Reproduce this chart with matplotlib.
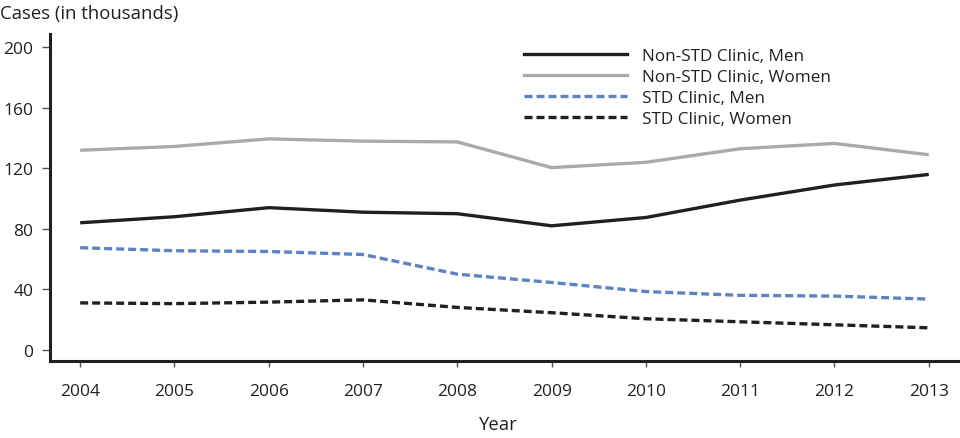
import matplotlib
matplotlib.use("Agg")
import matplotlib.pyplot as plt
from matplotlib.lines import Line2D

years = [2004, 2005, 2006, 2007, 2008, 2009, 2010, 2011, 2012, 2013]
non_std_men = [84, 88, 94, 91, 90, 82, 87.5, 99, 109, 116]
non_std_women = [132, 134.5, 139.5, 138, 137.5, 120.5, 124, 133, 136.5, 129]
std_men = [67.5, 65.5, 65, 63, 50, 44.5, 38.5, 36, 35.5, 33.5]
std_women = [31, 30.5, 31.5, 33, 28, 24.5, 20.5, 18.5, 16.5, 14.5]

labels = ["Non-STD Clinic, Men", "Non-STD Clinic, Women", "STD Clinic, Men", "STD Clinic, Women"]
yticks = [0, 40, 80, 120, 160, 200]

plt.rcParams['font.family'] = ['Open Sans', 'DejaVu Sans']
txt = '#231f20'

fig = plt.figure(figsize=(9.6, 4.39), dpi=100)
ax = fig.add_axes([50/960, (439-362)/439, 908/960, 327/439])

lw = 2.4
ax.plot(years, non_std_men, color='#231f20', lw=lw, solid_capstyle='butt')
ax.plot(years, non_std_women, color='#aaaaaa', lw=lw, solid_capstyle='butt')
ax.plot(years, std_men, color='#5b84c0', lw=lw, dashes=(2.4, 1.2))
ax.plot(years, std_women, color='#231f20', lw=lw, dashes=(2.4, 1.2))

ax.set_xlim(2003.68, 2013.31)
ax.set_ylim(-7.45, 208.9)
ax.set_xticks(years)
ax.set_xticklabels([str(y) for y in years])
ax.set_yticks(yticks)
for s in ['top', 'right']:
    ax.spines[s].set_visible(False)
for s in ['left', 'bottom']:
    ax.spines[s].set_linewidth(2.2)
    ax.spines[s].set_color(txt)
ax.tick_params(axis='y', length=6, width=1, color='#555555', pad=6, labelsize=12.5, labelcolor=txt)
ax.tick_params(axis='x', length=4, width=1, color='#555555', pad=12, labelsize=12.5, labelcolor=txt)

fig.text(0, 1 - 14/439, "Cases (in thousands)", fontsize=13.3, color=txt, va='center', ha='left')
fig.text(497/960, 1 - 425/439, "Year", fontsize=13.3, color=txt, va='center', ha='center')

handles = [
    Line2D([], [], color='#231f20', lw=lw),
    Line2D([], [], color='#aaaaaa', lw=lw),
    Line2D([], [], color='#5b84c0', lw=lw, dashes=(2.4, 1.2)),
    Line2D([], [], color='#231f20', lw=lw, dashes=(2.4, 1.2)),
]
leg = ax.legend(handles, labels, loc='upper left', bbox_to_anchor=(524/960, 1 - 49/439),
                bbox_transform=fig.transFigure, frameon=False, fontsize=12.3,
                handlelength=6.0, handletextpad=0.9, labelspacing=0.3, borderaxespad=0,
                borderpad=0)
for t in leg.get_texts():
    t.set_color(txt)

fig.savefig("out.png", dpi=100)
